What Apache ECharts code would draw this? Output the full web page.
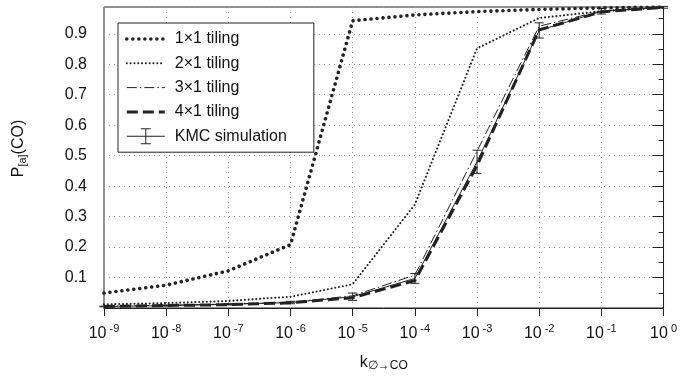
<!DOCTYPE html>
<html>
<head>
<meta charset="utf-8">
<script src="https://cdn.jsdelivr.net/npm/echarts@6/dist/echarts.min.js"></script>
<style>
  html, body { margin: 0; padding: 0; background: #fff; }
  #chart { width: 680px; height: 377px; }
</style>
</head>
<body>
<div id="chart"></div>
<script>
// Rate constant as log10(k), one point per decade
const log10K = [-9, -8, -7, -6, -5, -4, -3, -2, -1, 0];

// Adsorbed CO probability for each tiling model
const tiling1x1 = [0.049, 0.075, 0.122, 0.208, 0.943, 0.962, 0.973, 0.980, 0.985, 0.988];
const tiling2x1 = [0.012, 0.016, 0.023, 0.037, 0.078, 0.340, 0.852, 0.952, 0.974, 0.986];
const tiling3x1 = [0.006, 0.009, 0.013, 0.019, 0.040, 0.108, 0.515, 0.925, 0.975, 0.987];
const tiling4x1 = [0.005, 0.008, 0.011, 0.017, 0.034, 0.090, 0.468, 0.913, 0.972, 0.987];

// Kinetic Monte Carlo mean and half-width of the error bar
const kmcMean = [0.005, 0.008, 0.012, 0.018, 0.037, 0.097, 0.480, 0.911, 0.974, 0.987];
const kmcErr  = [0.001, 0.002, 0.002, 0.004, 0.012, 0.016, 0.038, 0.025, 0.009, 0.003];

const seriesNames = ['1\u00d71 tiling', '2\u00d71 tiling', '3\u00d71 tiling', '4\u00d71 tiling', 'KMC simulation'];
const yTickLabels = ['0.1', '0.2', '0.3', '0.4', '0.5', '0.6', '0.7', '0.8', '0.9'];

const FONT = '"Liberation Sans", Arial, Helvetica, sans-serif';
const INK = '#222';

// line styles shared by the plotted curves and their legend samples
const styles = [
  { color: INK, width: 3.6, type: [0.01, 6], cap: 'round' },
  { color: INK, width: 2.1, type: [0.01, 3.8], cap: 'round' },
  { color: INK, width: 1, type: [10, 3, 1.5, 3] },
  { color: INK, width: 3, type: [11, 5] },
  { color: INK, width: 1, type: 'solid' }
];

const pairs = (ys) => log10K.map((x, i) => [x, ys[i]]);
const errorData = log10K.map((x, i) => [x, kmcMean[i] - kmcErr[i], kmcMean[i] + kmcErr[i]]);

const chart = echarts.init(document.getElementById('chart'), null, { renderer: 'canvas' });

chart.setOption({
  animation: false,
  backgroundColor: '#fff',
  textStyle: { fontFamily: FONT },
  grid: {
    left: 104, top: 7, width: 563, height: 307,
    show: true, borderColor: INK, borderWidth: 1, backgroundColor: 'transparent'
  },
  legend: {
    orient: 'vertical',
    left: 118, top: 23,
    padding: [8, 27, 8, 7],
    itemWidth: 38, itemHeight: 16, itemGap: 8.3,
    borderColor: INK, borderWidth: 1, borderRadius: 0,
    backgroundColor: '#fff',
    // only the line sample is shown for the model curves
    itemStyle: { opacity: 0 },
    textStyle: { fontSize: 16, color: '#111', fontFamily: FONT, padding: [0, 0, 0, 5] },
    data: [
      { name: seriesNames[0], lineStyle: styles[0] },
      { name: seriesNames[1], lineStyle: styles[1] },
      { name: seriesNames[2], lineStyle: styles[2] },
      { name: seriesNames[3], lineStyle: styles[3] },
      {
        name: seriesNames[4],
        icon: 'path://M0,7.5L38,7.5L38,8.5L0,8.5Z M18.5,0L19.5,0L19.5,16L18.5,16Z M14,0L24,0L24,1L14,1Z M14,15L24,15L24,16L14,16Z',
        itemStyle: { opacity: 1, color: INK }
      }
    ]
  },
  xAxis: {
    type: 'value', min: -9, max: 0, interval: 1,
    name: '{k|k}{sub|\u2205\u2192CO}',
    nameLocation: 'middle', nameGap: 46,
    nameTextStyle: {
      rich: {
        k: { fontSize: 16, color: '#111', fontFamily: FONT },
        sub: { fontSize: 12, color: '#111', fontFamily: FONT, padding: [6, 0, 0, 0] }
      }
    },
    axisLine: { show: true, lineStyle: { color: INK, width: 1 } },
    axisTick: { show: true, inside: false, length: 8, lineStyle: { color: INK } },
    axisLabel: {
      margin: 14,
      formatter: (v) => '{b|10}{s|' + v + '}',
      rich: {
        b: { fontSize: 16, color: '#111', fontFamily: FONT, padding: [4, 0, 0, 0] },
        s: { fontSize: 11, color: '#111', fontFamily: FONT, padding: [0, 0, 6, 3] }
      }
    },
    splitLine: { show: true, lineStyle: { color: '#999', width: 1, type: [1, 4] } }
  },
  yAxis: {
    type: 'value', min: 0, max: 0.988, interval: 0.1,
    name: '{p|P}{sub|[a]}{p|(CO)}',
    nameLocation: 'middle', nameRotate: 90, nameGap: 76,
    nameTextStyle: {
      padding: [0, 0, 0, 18],
      rich: {
        p: { fontSize: 16, color: '#111', fontFamily: FONT },
        sub: { fontSize: 11, color: '#111', fontFamily: FONT, padding: [7, 0, 0, 0] }
      }
    },
    axisLine: { show: true, lineStyle: { color: INK, width: 1 } },
    axisTick: { show: true, inside: false, length: 11, lineStyle: { color: INK } },
    minorTick: { show: true, splitNumber: 2, length: 5, lineStyle: { color: INK } },
    axisLabel: {
      margin: 17, fontSize: 16, color: '#111', fontFamily: FONT,
      showMinLabel: false, showMaxLabel: false,
      formatter: (v) => {
        const s = v.toFixed(1);
        return yTickLabels.indexOf(s) >= 0 && Math.abs(v - parseFloat(s)) < 1e-6 ? s : '';
      }
    },
    splitLine: { show: true, lineStyle: { color: '#999', width: 1, type: [1, 4] } }
  },
  series: [
    {
      name: seriesNames[0], type: 'line', data: pairs(tiling1x1),
      symbol: 'none', z: 5, itemStyle: { color: INK }, lineStyle: styles[0]
    },
    {
      name: seriesNames[1], type: 'line', data: pairs(tiling2x1),
      symbol: 'none', z: 5, itemStyle: { color: INK }, lineStyle: styles[1]
    },
    {
      name: seriesNames[2], type: 'line', data: pairs(tiling3x1),
      symbol: 'none', z: 5, itemStyle: { color: INK }, lineStyle: styles[2]
    },
    {
      name: seriesNames[3], type: 'line', data: pairs(tiling4x1),
      symbol: 'none', z: 5, itemStyle: { color: INK }, lineStyle: styles[3]
    },
    {
      name: seriesNames[4], type: 'line', data: pairs(kmcMean),
      symbol: 'none', z: 5, itemStyle: { color: INK }, lineStyle: styles[4]
    },
    {
      name: seriesNames[4], type: 'custom', z: 6,
      data: errorData,
      encode: { x: 0, y: [1, 2] },
      renderItem: (params, api) => {
        const x = api.value(0);
        const lo = api.coord([x, api.value(1)]);
        const hi = api.coord([x, api.value(2)]);
        const hw = 4.5;
        const st = { stroke: INK, lineWidth: 1 };
        return {
          type: 'group',
          children: [
            { type: 'line', shape: { x1: hi[0], y1: hi[1], x2: lo[0], y2: lo[1] }, style: st },
            { type: 'line', shape: { x1: hi[0] - hw, y1: hi[1], x2: hi[0] + hw, y2: hi[1] }, style: st },
            { type: 'line', shape: { x1: lo[0] - hw, y1: lo[1], x2: lo[0] + hw, y2: lo[1] }, style: st }
          ]
        };
      }
    }
  ]
});
</script>
</body>
</html>
